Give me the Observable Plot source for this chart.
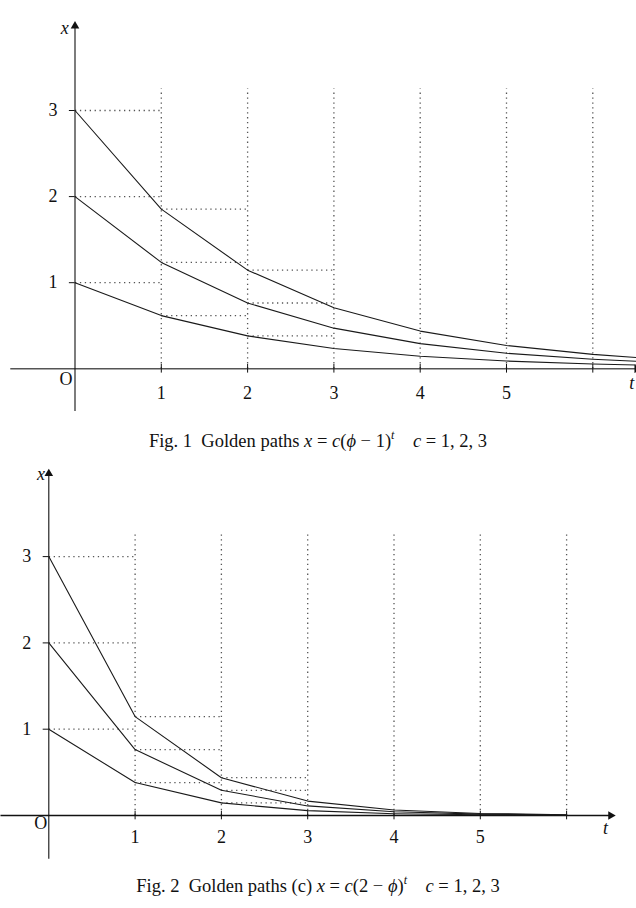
<!DOCTYPE html>
<html><head><meta charset="utf-8">
<script src="https://cdn.jsdelivr.net/npm/d3@7"></script>
<script src="https://cdn.jsdelivr.net/npm/@observablehq/plot@0.6"></script>
<style>
body{margin:0;background:#fff;width:636px;}
.cap{font-family:"Liberation Serif","DejaVu Serif",serif;font-size:18.5px;text-align:center;height:40px;line-height:42px;color:#111;white-space:pre}
.cap i{font-style:italic}
.cap sup{font-size:12px;vertical-align:8px;line-height:0}
</style></head><body>
<div id="f1"></div>
<div class="cap" id="c1">Fig. 1  Golden paths <i>x</i> = <i>c</i>(<i>ϕ</i> − 1)<sup><i>t</i></sup>    <i>c</i> = 1, 2, 3</div>
<div id="f2"></div>
<div class="cap" id="c2">Fig. 2  Golden paths (c) <i>x</i> = <i>c</i>(2 − <i>ϕ</i>)<sup><i>t</i></sup>    <i>c</i> = 1, 2, 3</div>
<script>
// ---- data ----
const fig1T = [0, 1, 2, 3, 4, 5, 6, 6.5];
const fig1C3 = [3, 1.854, 1.146, 0.708, 0.438, 0.271, 0.167, 0.131];
const fig1C2 = [2, 1.236, 0.764, 0.472, 0.292, 0.180, 0.111, 0.087];
const fig1C1 = [1, 0.618, 0.382, 0.236, 0.146, 0.090, 0.056, 0.044];

const fig2T = [0, 1, 2, 3, 4, 5, 6];
const fig2C3 = [3, 1.146, 0.438, 0.167, 0.064, 0.024, 0.009];
const fig2C2 = [2, 0.764, 0.292, 0.111, 0.043, 0.016, 0.006];
const fig2C1 = [1, 0.382, 0.146, 0.056, 0.021, 0.008, 0.003];

const gridT = [1, 2, 3, 4, 5, 6];
const tickLabelsT = [1, 2, 3, 4, 5];
const tickLabelsX = [1, 2, 3];
const guideSteps = [0, 1, 2];   // dotted horizontal guides start at these t
const gridTop = 3.25;

const font = "Liberation Serif, DejaVu Serif, serif";
const dotStyle = {stroke: "#555", strokeWidth: 1.3, strokeDasharray: "1.3,3.6"};

function makeFig(o) {
  const series = [o.c1, o.c2, o.c3];
  const lines = series.flatMap((s, i) => o.t.map((t, j) => ({t, v: s[j], c: i + 1})));
  const guides = series.flatMap(s => guideSteps.map(k => ({t1: k, t2: k + 1, v: s[k]})));
  return Plot.plot({
    width: 636, height: o.height, margin: 0,
    x: {domain: [0, 6], range: [o.ox, o.ox + 6 * o.ux], axis: null},
    y: {domain: [0, 3], range: [o.oy, o.oy - 3 * o.uy], axis: null},
    style: {fontFamily: font, background: "#fff"},
    marks: [
      Plot.ruleX(gridT, {y1: 0, y2: gridTop, ...dotStyle}),
      Plot.link(guides, {x1: "t1", x2: "t2", y1: "v", y2: "v", ...dotStyle}),
      Plot.link([{a: o.xAxis[0], b: o.xAxis[1]}], {x1: "a", x2: "b", y1: 0, y2: 0, stroke: o.axisColor, strokeWidth: 1.4}),
      Plot.link([{a: o.yAxis[0], b: o.yAxis[1]}], {x1: 0, x2: 0, y1: "a", y2: "b", stroke: "#111", strokeWidth: 1.1}),
      Plot.dot([o.xAxis[1]], {x: d => d, y: 0, symbol: "triangle", rotate: 90, r: 3.2, fill: "#111", stroke: null, dx: 1}),
      Plot.dot([o.yAxis[1]], {x: 0, y: d => d, symbol: "triangle", r: 3.2, fill: "#111", stroke: null, dy: -1}),
      Plot.ruleX(gridT, {y1: -0.05, y2: 0.05, stroke: "#111", strokeWidth: 1}),
      Plot.ruleY(tickLabelsX, {x1: -0.065, x2: 0, stroke: "#111", strokeWidth: 1}),
      Plot.line(lines, {x: "t", y: "v", z: "c", stroke: "#1a1a1a", strokeWidth: 1.1}),
      Plot.text(tickLabelsT, {x: d => d, y: 0, dy: o.xLabelDy, text: d => String(d), fontSize: 18, fill: "#111"}),
      Plot.text(tickLabelsX, {x: 0, y: d => d, dx: o.yLabelDx, text: d => String(d), fontSize: 18, fill: "#111"}),
      Plot.text(["O"], {x: 0, y: 0, dx: o.oDx, dy: o.oDy, text: d => d, fontSize: 18, fill: "#111"}),
      Plot.text(["x"], {x: o.xLab[0], y: o.xLab[1], text: d => d, fontSize: 18, fontStyle: "italic", fill: "#111"}),
      Plot.text(["t"], {x: o.tLab[0], y: o.tLab[1], text: d => d, fontSize: 18, fontStyle: "italic", fill: "#111"})
    ]
  });
}

document.getElementById("f1").append(makeFig({
  t: fig1T, c1: fig1C1, c2: fig1C2, c3: fig1C3,
  height: 420, ox: 74.5, oy: 368.3, ux: 86.3, uy: 86.1,
  xAxis: [-0.75, 6.5], yAxis: [-0.49, 3.97], axisColor: "#555",
  xLabelDy: 24, yLabelDx: -22, oDx: -9, oDy: 10,
  xLab: [-0.12, 3.95], tLab: [6.45, -0.17]
}));
document.getElementById("f2").append(makeFig({
  t: fig2T, c1: fig2C1, c2: fig2C2, c3: fig2C3,
  height: 405, ox: 48.3, oy: 355, ux: 86.3, uy: 86.3,
  xAxis: [-0.56, 6.5], yAxis: [-0.5, 3.95], axisColor: "#111",
  xLabelDy: 22, yLabelDx: -22, oDx: -8, oDy: 8,
  xLab: [-0.09, 3.95], tLab: [6.45, -0.15]
}));
</script>
</body></html>
